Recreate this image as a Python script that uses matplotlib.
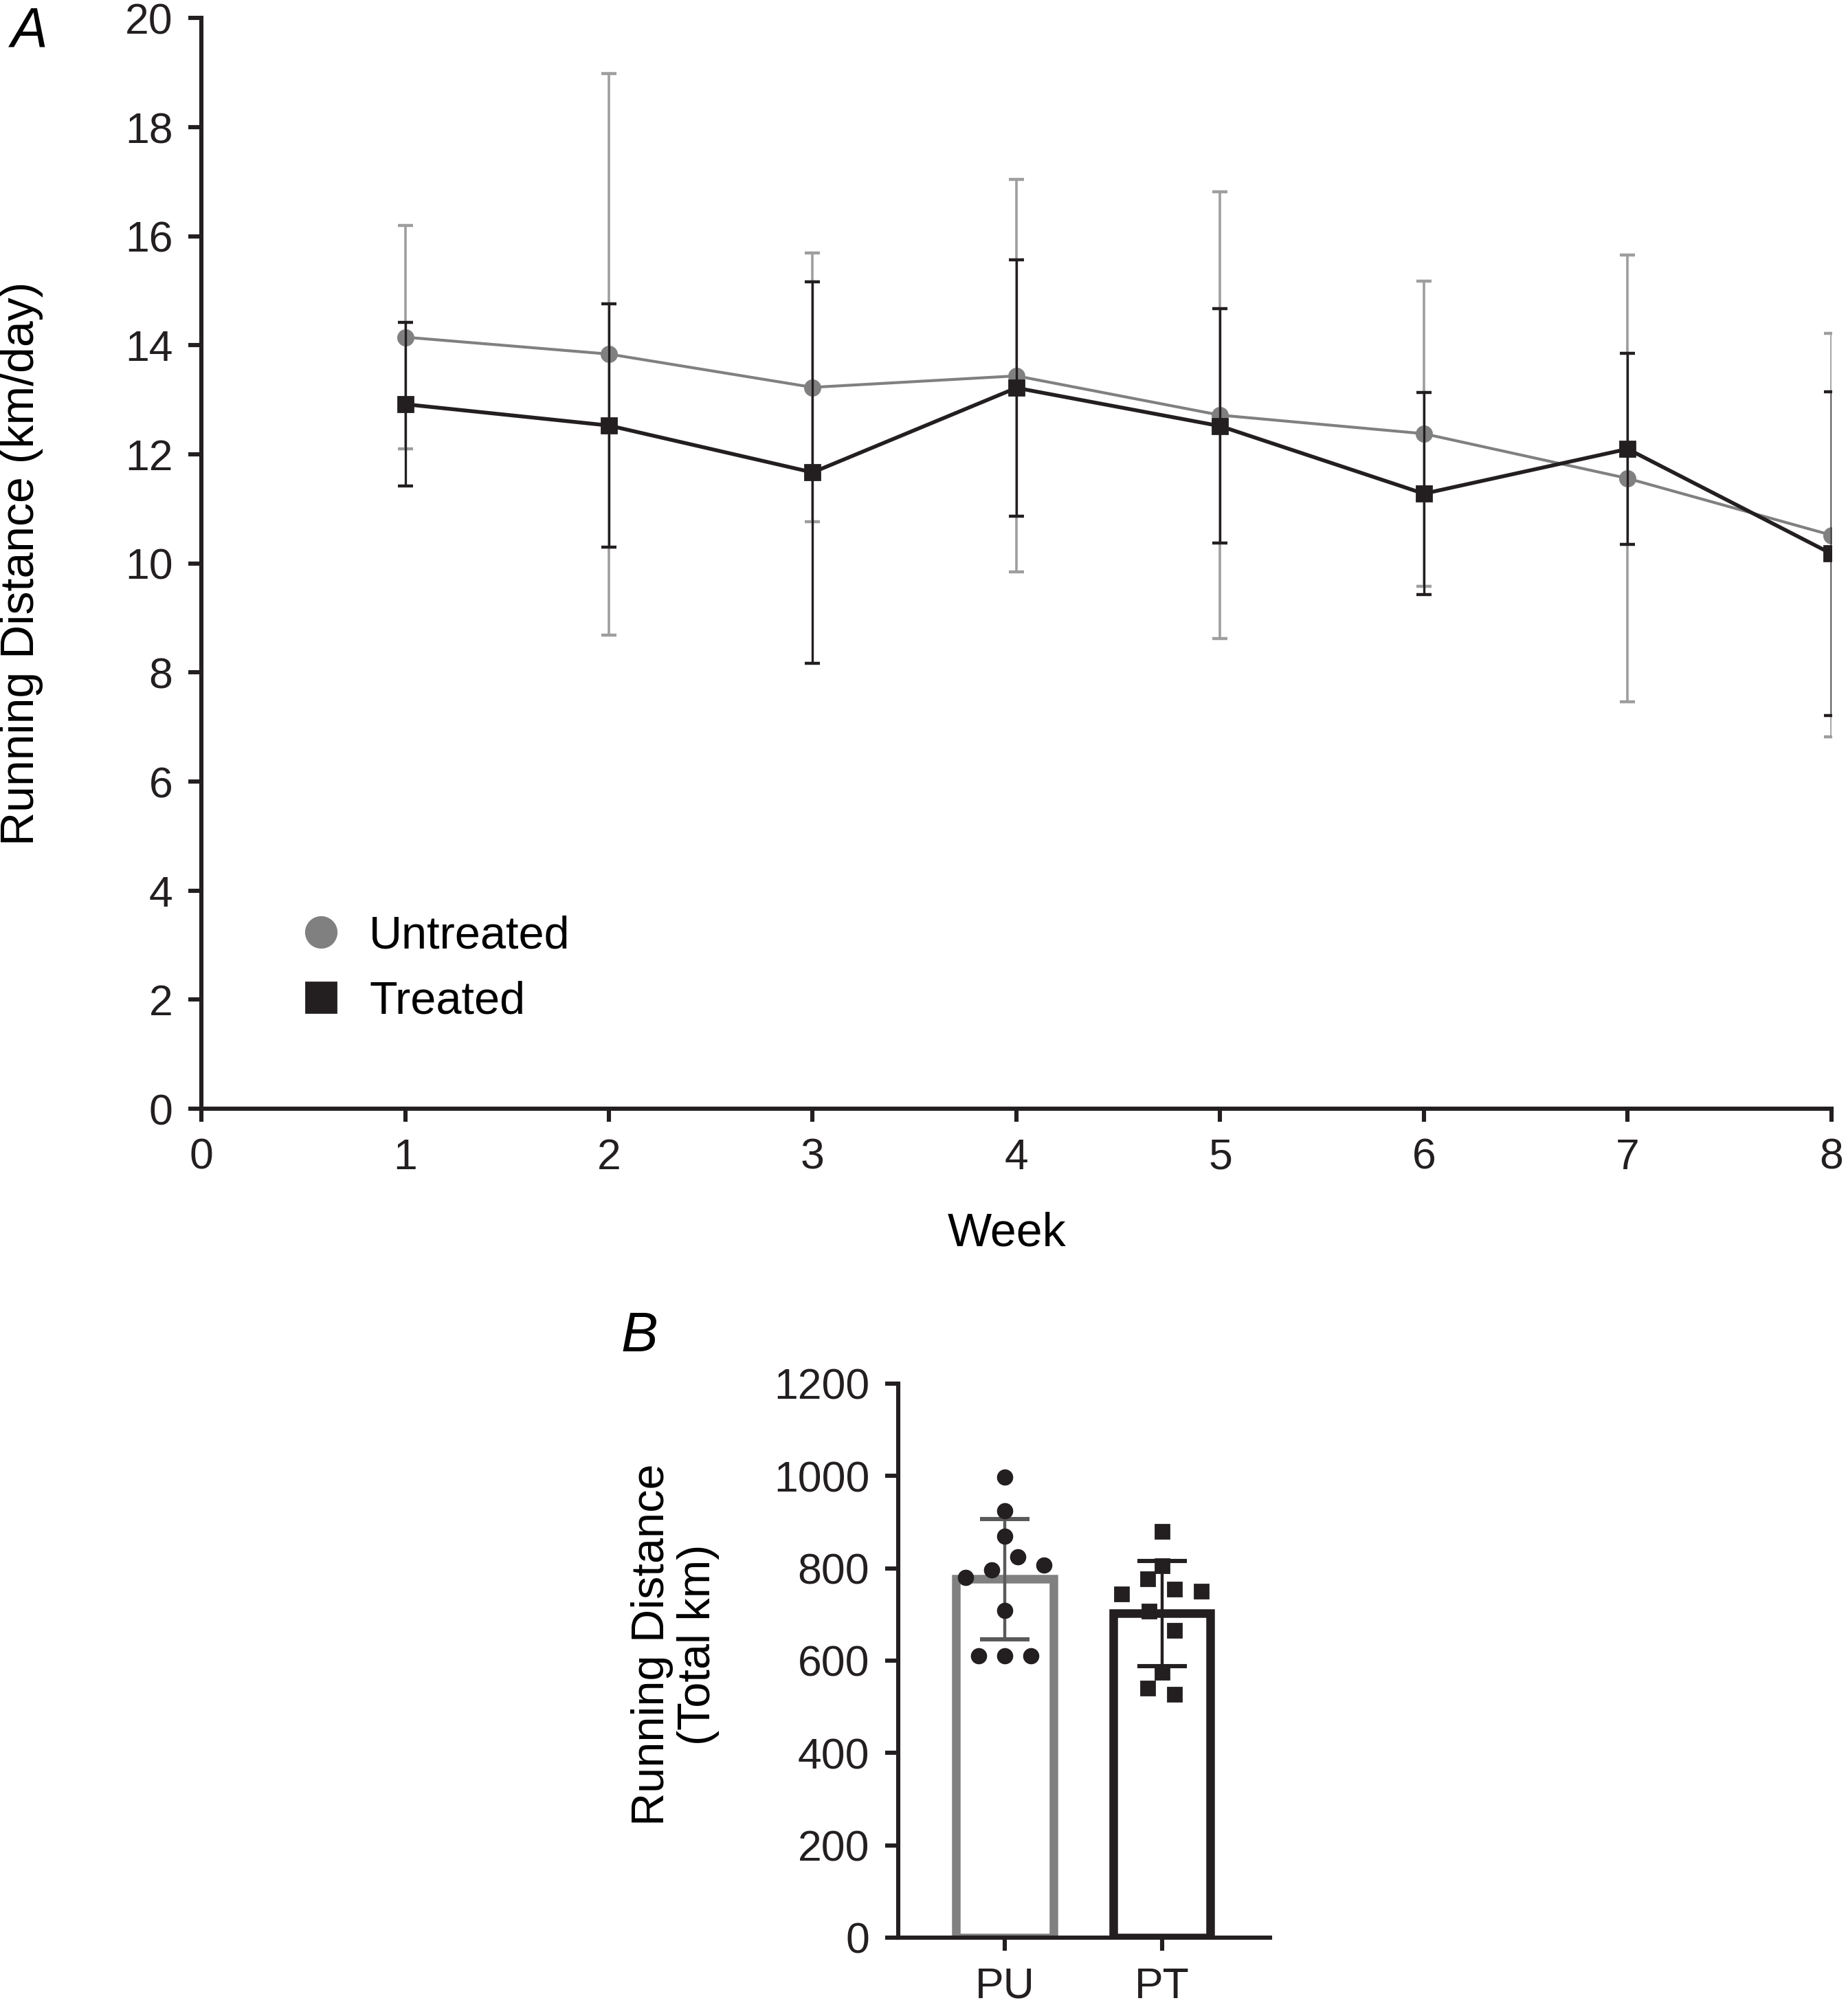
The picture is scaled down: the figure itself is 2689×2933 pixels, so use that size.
import numpy as np
import matplotlib
matplotlib.use("Agg")
import matplotlib.pyplot as plt
from matplotlib.lines import Line2D

plt.rcParams['font.family'] = ['Liberation Sans', 'DejaVu Sans']

# panel A: weekly running distance (km/day), mean and SD
weeks = [1, 2, 3, 4, 5, 6, 7, 8]
untreated_mean = [14.15, 13.84, 13.23, 13.44, 12.72, 12.38, 11.56, 10.52]
untreated_sd = [2.05, 5.15, 2.46, 3.6, 4.1, 2.8, 4.1, 3.7]
treated_mean = [12.92, 12.53, 11.67, 13.22, 12.52, 11.28, 12.1, 10.18]
treated_sd = [1.5, 2.23, 3.5, 2.35, 2.15, 1.85, 1.75, 2.97]

# panel B: total distance per animal (km)
groups = ["PU", "PT"]
pu_values = [997, 924, 869, 825, 807, 797, 780, 709, 611, 611, 611]
pu_jitter = [0, 0, 0, 0.083, 0.25, -0.083, -0.25, 0, -0.165, 0, 0.165]
pt_values = [880, 805, 777, 755, 750, 744, 707, 665, 575, 540, 527]
pt_jitter = [0, 0, -0.088, 0.082, 0.252, -0.257, -0.083, 0.082, 0, -0.088, 0.082]

gray = "#808080"
gray_err = "#9e9e9e"
black = "#231f20"

fig = plt.figure(figsize=(13.445, 14.665), dpi=200)

# ---- panel A ----
ax = fig.add_axes([0.109, 0.450, 0.882, 0.541])
ax.errorbar(weeks, untreated_mean, yerr=untreated_sd, color=gray, ecolor=gray_err,
            elinewidth=1.3, capsize=4, capthick=1.6, marker='o', markersize=8,
            linewidth=1.5, zorder=3)
ax.errorbar(weeks, treated_mean, yerr=treated_sd, color=black, ecolor=black,
            elinewidth=1.2, capsize=4, capthick=1.6, marker='s', markersize=8,
            linewidth=2.0, zorder=4)
ax.set_xlim(0, 8)
ax.set_ylim(0, 20)
ax.set_xticks(range(0, 9))
ax.set_yticks(range(0, 21, 2))
for s in ['top', 'right']:
    ax.spines[s].set_visible(False)
for s in ['left', 'bottom']:
    ax.spines[s].set_linewidth(2.2)
    ax.spines[s].set_color(black)
ax.tick_params(width=2.2, length=7, labelsize=22.5, colors=black, pad=8)
ax.set_xlabel("Week", fontsize=24.5)
ax.xaxis.set_label_coords(0.494, -0.094)
ax.set_ylabel("Running Distance (km/day)", fontsize=24.5)
ax.yaxis.set_label_coords(-0.097, 0.5)
handles = [Line2D([], [], color=gray, marker='o', markersize=16, linestyle='none'),
           Line2D([], [], color=black, marker='s', markersize=16, linestyle='none')]
ax.legend(handles, ["Untreated", "Treated"], loc='center left', bbox_to_anchor=(0.034, 0.128),
          frameon=False, fontsize=24, handletextpad=0.55, labelspacing=0.5, handlelength=1.0)
fig.text(0.006, 0.984, "A", fontsize=29, style='italic', va='center', ha='left')

# ---- panel B ----
bx = fig.add_axes([0.486, 0.0389, 0.2012, 0.2748])
means = [np.mean(pu_values), np.mean(pt_values)]
sds = [np.std(pu_values, ddof=1), np.std(pt_values, ddof=1)]
edge_cols = [gray, black]
for i in range(2):
    bx.bar(i, means[i], width=0.62, color='white', edgecolor=edge_cols[i], linewidth=4.5, zorder=2)
bx.errorbar(0, means[0], yerr=sds[0], color="#5a5a5a", elinewidth=1.6, capsize=13, capthick=2.2, zorder=3)
bx.errorbar(1, means[1], yerr=sds[1], color=black, elinewidth=1.6, capsize=13, capthick=2.2, zorder=3)
bx.plot(np.array(pu_jitter), pu_values, 'o', color=black, markersize=7.5, zorder=4)
bx.plot(1 + np.array(pt_jitter), pt_values, 's', color=black, markersize=7.5, zorder=4)
bx.set_xlim(-0.68, 1.689)
bx.set_ylim(0, 1200)
bx.set_xticks([0, 1])
bx.set_xticklabels(groups)
bx.set_yticks(range(0, 1201, 200))
for s in ['top', 'right']:
    bx.spines[s].set_visible(False)
for s in ['left', 'bottom']:
    bx.spines[s].set_linewidth(2.2)
    bx.spines[s].set_color(black)
bx.tick_params(width=2.2, length=7, labelsize=22.5, colors=black, pad=8)
bx.set_ylabel("Running Distance\n(Total km)", fontsize=24, linespacing=1.1)
bx.yaxis.set_label_coords(-0.48, 0.529)
fig.text(0.336, 0.337, "B", fontsize=29, style='italic', va='center', ha='left')

fig.savefig("out.png", dpi=200)
